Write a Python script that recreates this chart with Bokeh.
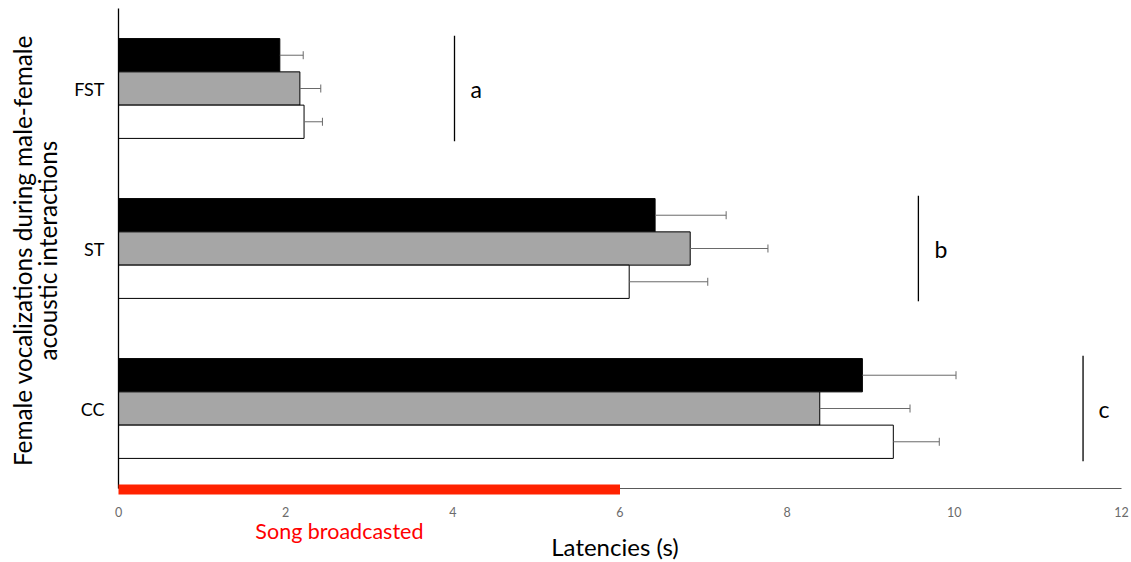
import math
from bokeh.plotting import figure
from bokeh.models import ColumnDataSource, Range1d, FixedTicker
from bokeh.transform import dodge
from bokeh.core.properties import value
from bokeh.embed import file_html
from bokeh.resources import INLINE

# ---- data ----
categories = ["CC", "ST", "FST"]
# within each group, from top to bottom: black, gray, white
black_vals = [8.90, 6.42, 1.93]
black_err = [1.12, 0.85, 0.28]
gray_vals = [8.39, 6.84, 2.17]
gray_err = [1.08, 0.93, 0.25]
white_vals = [9.27, 6.11, 2.22]
white_err = [0.55, 0.94, 0.22]
sig_letters = ["c", "b", "a"]
sig_line_x = [11.54, 9.57, 4.02]
sig_letter_x = [11.79, 9.84, 4.28]
x_ticks = [0, 2, 4, 6, 8, 10, 12]
x_max = 12
song_span = [0, 6]
song_label = "Song broadcasted"
x_title = "Latencies (s)"
y_title_lines = ["Female vocalizations during male-female", "acoustic interactions"]

FONT = "Lato"

# pixel geometry of the chart area
PX_PER_X = 83.583   # px per second
PX_PER_CAT = 160.0  # px per category band
LEFT, TOP, BOTTOM = 118, 8, 488
W, H = 1131, 562

ypos = [i + 0.5 for i in range(len(categories))]
src = ColumnDataSource(dict(
    cat=categories, ypos=ypos,
    black=black_vals, black_hi=[v + e for v, e in zip(black_vals, black_err)],
    gray=gray_vals, gray_hi=[v + e for v, e in zip(gray_vals, gray_err)],
    white=white_vals, white_hi=[v + e for v, e in zip(white_vals, white_err)],
    letter=sig_letters, lx=sig_line_x, tx=sig_letter_x,
))

p = figure(width=W, height=H, output_backend="svg", toolbar_location=None,
           x_range=Range1d(-LEFT / PX_PER_X, (W - LEFT) / PX_PER_X),
           y_range=Range1d(-(H - BOTTOM) / PX_PER_CAT, len(categories) + TOP / PX_PER_CAT),
           min_border_left=0, min_border_right=0, min_border_top=0, min_border_bottom=0)
p.outline_line_color = None
p.xgrid.visible = False
p.ygrid.visible = False

BH = 0.208
series = [("black", 0.208, "black"), ("gray", 0.0, "#a6a6a6"), ("white", -0.208, "white")]
for key, off, col in series:
    p.hbar(y=dodge("ypos", off), left=0, right=key, height=BH,
           fill_color=col, line_color="black", line_width=1, source=src)
    p.segment(x0=key, x1=key + "_hi", y0=dodge("ypos", off), y1=dodge("ypos", off),
              line_color="#6a6a6a", line_width=1, source=src)
    p.segment(x0=key + "_hi", x1=key + "_hi", y0=dodge("ypos", off - 0.025),
              y1=dodge("ypos", off + 0.025), line_color="#6a6a6a", line_width=1, source=src)

# significance brackets and letters
p.segment(x0="lx", x1="lx", y0=dodge("ypos", -0.33), y1=dodge("ypos", 0.33),
          line_color="black", line_width=1.3, source=src)
p.text(x="tx", y="ypos", text="letter", text_align="center", text_baseline="middle",
       text_font=value(FONT), text_font_size="23px", text_color="black", source=src)

# song broadcast bar (drawn over the axis line)
song_src = ColumnDataSource(dict(x0=[song_span[0]], x1=[song_span[1]], y=[0.0],
                                 tx=[(song_span[0] + song_span[1]) / 2 - 0.357], text=[song_label]))
r = p.segment(x0="x0", x1="x1", y0=dodge("y", -0.006), y1=dodge("y", -0.006),
              line_color="#ff2200", line_width=10, line_cap="butt", source=song_src)
r.level = "overlay"
p.text(x="tx", y=dodge("y", -0.268), text="text", text_align="center", text_baseline="middle",
       text_font=value(FONT), text_font_size="21.5px", text_color="#ff0000", source=song_src)

# axis titles
p.text(x=[x_max / 2 - 0.06], y=[-0.363], text=[x_title], text_align="center", text_baseline="middle",
       text_font=value(FONT), text_font_size="24px", text_color="black")
p.text(x=[-1.145, -0.847], y=[1.487, 1.487], text=y_title_lines, angle=math.pi / 2,
       text_align="center", text_baseline="middle",
       text_font=value(FONT), text_font_size="24.3px", text_color="black")

# axes
xa = p.xaxis[0]
xa.fixed_location = 0
xa.bounds = (0, x_max)
xa.ticker = FixedTicker(ticks=x_ticks)
xa.major_label_text_font = FONT
xa.major_label_text_font_size = "12.5px"
xa.major_label_text_color = "#6b6b6b"
xa.major_label_standoff = 12
xa.major_tick_line_color = None
xa.minor_tick_line_color = None
xa.axis_line_color = "#595959"
xa.axis_line_width = 1.2

ya = p.yaxis[0]
ya.fixed_location = 0
ya.bounds = (0, len(categories))
ya.ticker = FixedTicker(ticks=ypos)
ya.major_label_overrides = {y: c for y, c in zip(ypos, categories)}
ya.major_label_text_font = FONT
ya.major_label_text_font_size = "18px"
ya.major_label_text_color = "black"
ya.major_label_standoff = 8
ya.major_tick_line_color = None
ya.minor_tick_line_color = None
ya.axis_line_color = "black"
ya.axis_line_width = 1.3

open("out.html", "w").write(file_html(p, INLINE))
